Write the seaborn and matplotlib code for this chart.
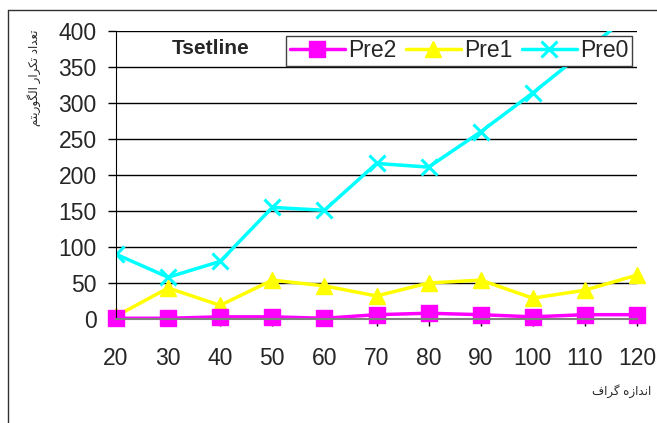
import numpy as np
import pandas as pd
import matplotlib
matplotlib.use('Agg')
import matplotlib.pyplot as plt
import seaborn as sns
from matplotlib.lines import Line2D

# Data
sizes = [20, 30, 40, 50, 60, 70, 80, 90, 100, 110, 120]
pre2 = [1, 1, 3, 3, 1, 6, 8, 6, 3, 6, 6]
pre1 = [4, 43, 19, 54, 46, 32, 50, 54, 29, 40, 61]
pre0 = [90, 58, 80, 155, 151, 216, 211, 260, 314, 372, 430]
series_names = ['Pre2', 'Pre1', 'Pre0']
colors = {'Pre2': '#FF00FF', 'Pre1': '#FFFF00', 'Pre0': '#00FFFF'}
marker_map = {'Pre2': 's', 'Pre1': '^', 'Pre0': 'x'}

# Persian labels, shaped by hand into presentation forms (visual order)
# "تعداد تکرار الگوریتم"
ylabel_fa = ('\ufee2\ufe98\ufbfe\ufead\ufeee\ufb95\ufedf\ufe8d' + ' '
             + '\ufead\ufe8d\ufeae\ufb91\ufe97' + ' '
             + '\ufea9\ufe8d\ufeaa\ufecc\ufe97')
# "اندازه گراف"
xlabel_fa = ('\ufed1\ufe8d\ufeae\ufb94' + ' '
             + '\ufee9\ufeaf\ufe8d\ufeaa\ufee7\ufe8d')

df = pd.DataFrame({
    'size': sizes * 3,
    'value': pre2 + pre1 + pre0,
    'series': ['Pre2'] * len(sizes) + ['Pre1'] * len(sizes) + ['Pre0'] * len(sizes),
})

sns.set_style('white')
plt.rcParams['font.family'] = ['Liberation Sans', 'DejaVu Sans']

W, H = 657, 423
fig = plt.figure(figsize=(W / 100, H / 100), dpi=100)
ax = fig.add_axes([116 / W, 1 - 319 / H, (637 - 116) / W, (319 - 31) / H])

# draw back to front: Pre0, Pre1, Pre2 on top
for name in series_names[::-1]:
    sub = df[df['series'] == name]
    mew = 2.2 if name == 'Pre0' else 1
    sns.lineplot(data=sub, x='size', y='value', color=colors[name],
                 marker=marker_map[name], markersize=11, linewidth=2.5,
                 markeredgecolor=colors[name], markeredgewidth=mew,
                 clip_on=(name == 'Pre0'), ax=ax, legend=False)

ax.set_xlim(20, 120)
ax.set_ylim(0, 400)
ax.set_xticks(sizes)
ax.set_yticks(np.arange(0, 401, 50))
ax.grid(axis='y', color='black', linewidth=1)
ax.grid(axis='x', visible=False)
ax.set_axisbelow(True)
for s in ['top', 'right']:
    ax.spines[s].set_visible(False)
ax.spines['left'].set_color('black')
ax.spines['bottom'].set_color('#808080')
ax.spines['bottom'].set_linewidth(1.5)
ax.tick_params(axis='y', left=True, direction='out', length=6, width=1, pad=8,
               labelsize=16.5, color='black')
ax.tick_params(axis='x', bottom=True, direction='out', length=5, width=1, pad=15,
               labelsize=16.5, color='black')
ax.set_xlabel('')
ax.set_ylabel('')

handles = [Line2D([], [], color=colors[n], marker=marker_map[n], lw=2.5,
                  markersize=11, mec=colors[n], mfc=colors[n],
                  mew=2.2 if n == 'Pre0' else 1) for n in series_names]
leg = ax.legend(handles, series_names, loc='upper right',
                bbox_to_anchor=(632 / W, 1 - 36 / H),
                bbox_transform=fig.transFigure, ncol=3, fontsize=16.5,
                frameon=True, fancybox=False, framealpha=1,
                edgecolor='#404040', borderpad=0.15, handlelength=2.4,
                handletextpad=0.15, columnspacing=0.4, borderaxespad=0)
leg.get_frame().set_linewidth(1)
leg.set_zorder(10)

fig.text(211 / W, 1 - 48 / H, 'Tsetline', fontsize=15, fontweight='bold',
         ha='center', va='center')

fig.text(34 / W, 1 - 78 / H, ylabel_fa, rotation=90, fontsize=8.5,
         ha='center', va='center', family=['DejaVu Sans'])
fig.text(651 / W, 1 - 391 / H, xlabel_fa, fontsize=8.5,
         ha='right', va='center', family=['DejaVu Sans'])

# outer chart frame
fig.add_artist(Line2D([8 / W, 8 / W], [0, 1 - 10 / H], color='#303030', lw=1,
                      transform=fig.transFigure))
fig.add_artist(Line2D([8 / W, 1], [1 - 10 / H, 1 - 10 / H], color='#303030', lw=1,
                      transform=fig.transFigure))

fig.savefig('out.png', dpi=100)
